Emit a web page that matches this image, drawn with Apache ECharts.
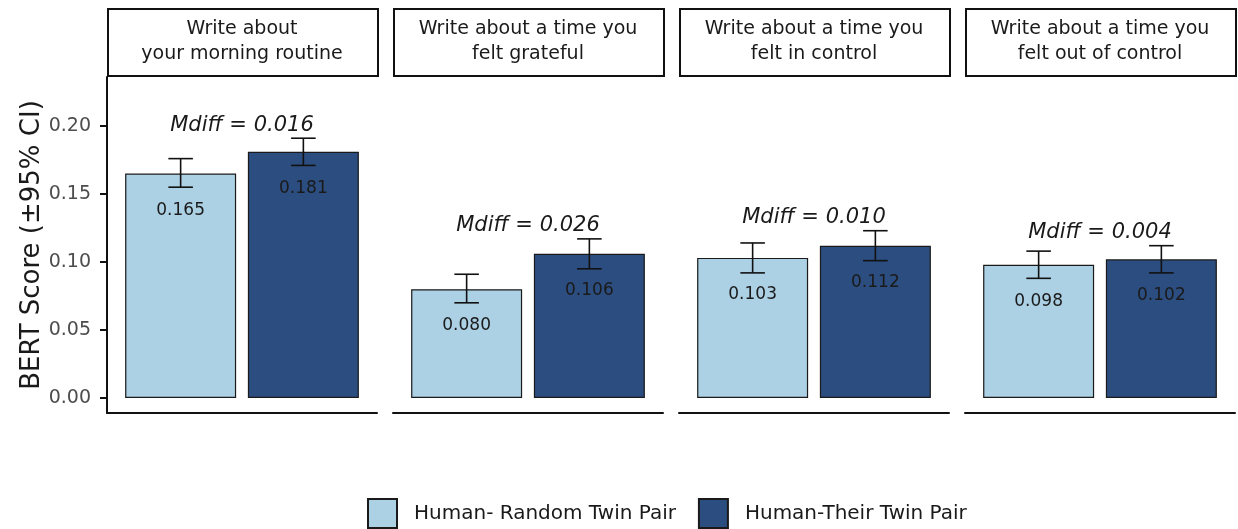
<!DOCTYPE html>
<html>
<head>
<meta charset="utf-8">
<script src="https://cdn.jsdelivr.net/npm/echarts@6/dist/echarts.min.js"></script>
<style>
  html, body { margin: 0; padding: 0; background: #ffffff; }
  #bert-chart { width: 1238px; height: 529px; }
</style>
</head>
<body>
<div id="bert-chart"></div>
<script>
//----------------------Data----------------------
let panelTitles = [
    "Write about\nyour morning routine",
    "Write about a time you\nfelt grateful",
    "Write about a time you\nfelt in control",
    "Write about a time you\nfelt out of control"
];
let seriesNames = ["Human- Random Twin Pair", "Human-Their Twin Pair"];
let randomPair = [0.165, 0.080, 0.103, 0.098];
let randomLo = [0.155, 0.070, 0.092, 0.088];
let randomHi = [0.176, 0.091, 0.114, 0.108];
let theirPair = [0.181, 0.106, 0.112, 0.102];
let theirLo = [0.171, 0.095, 0.101, 0.092];
let theirHi = [0.191, 0.117, 0.123, 0.112];
let mdiffLabels = ["0.016", "0.026", "0.010", "0.004"];
let yTicks = [0.00, 0.05, 0.10, 0.15, 0.20];

//--------------------Location--------------------
let panel_lefts = [107, 393, 679, 965];
let panel_width = 270;
let panel_top = 77;
let panel_bottom = 116;
let strip_top = 8;
let strip_height = 67;
let y_min = -0.011;
let y_max = 0.236;
let cap_width = 0.2;
let font_main = '"DejaVu Sans", sans-serif';
let color_light = "#acd0e4";
let color_dark = "#2c4d7f";
let ink = "#1a1a1a";

let bert_chart = echarts.init(document.getElementById("bert-chart"));

let grids = [], xAxes = [], yAxes = [], series = [], graphics = [];

for (let i = 0; i < panelTitles.length; i++) {
    grids.push({
        left: panel_lefts[i], width: panel_width,
        top: panel_top, bottom: panel_bottom
    });
    xAxes.push({
        gridIndex: i, type: "value", min: -0.6, max: 1.6,
        axisLine: {show: true, onZero: false, lineStyle: {color: "#111", width: 2}},
        axisTick: {show: false}, axisLabel: {show: false}, splitLine: {show: false}
    });
    yAxes.push({
        gridIndex: i, type: "value", min: y_min, max: y_max,
        show: i === 0,
        name: i === 0 ? "BERT Score (±95% CI)" : "",
        nameLocation: "middle", nameGap: 62,
        nameTextStyle: {fontSize: 26, color: ink, fontFamily: font_main},
        axisLine: {show: true, onZero: false, lineStyle: {color: "#111", width: 2}},
        axisTick: {show: true, length: 7, customValues: yTicks, lineStyle: {color: "#111", width: 2}},
        axisLabel: {
            show: true, customValues: yTicks, margin: 16,
            fontSize: 19, color: "#4d4d4d", fontFamily: font_main,
            formatter: v => v.toFixed(2)
        },
        splitLine: {show: false}
    });

    let barLabel = {
        show: true, position: "insideTop", distance: 28,
        fontSize: 17, color: ink, fontFamily: font_main,
        formatter: p => p.value[1].toFixed(3)
    };
    series.push({
        name: seriesNames[0], type: "bar", xAxisIndex: i, yAxisIndex: i,
        barWidth: 111, barGap: "-100%",
        itemStyle: {color: color_light, borderColor: "#1a1a1a", borderWidth: 1.2},
        label: barLabel,
        data: [[0, randomPair[i]]]
    });
    series.push({
        name: seriesNames[1], type: "bar", xAxisIndex: i, yAxisIndex: i,
        barWidth: 111, barGap: "-100%",
        itemStyle: {color: color_dark, borderColor: "#1a1a1a", borderWidth: 1.2},
        label: barLabel,
        data: [[1, theirPair[i]]]
    });
    // error bars
    series.push({
        type: "custom", xAxisIndex: i, yAxisIndex: i, z: 5,
        renderItem: function (params, api) {
            let lo = api.coord([api.value(0), api.value(1)]);
            let hi = api.coord([api.value(0), api.value(2)]);
            let half = api.size([cap_width, 0])[0] / 2;
            let st = {stroke: "#111", lineWidth: 1.6};
            return {type: "group", children: [
                {type: "line", shape: {x1: lo[0], y1: hi[1], x2: lo[0], y2: lo[1]}, style: st},
                {type: "line", shape: {x1: lo[0] - half, y1: hi[1], x2: lo[0] + half, y2: hi[1]}, style: st},
                {type: "line", shape: {x1: lo[0] - half, y1: lo[1], x2: lo[0] + half, y2: lo[1]}, style: st}
            ]};
        },
        data: [[0, randomLo[i], randomHi[i]], [1, theirLo[i], theirHi[i]]]
    });
    // Mdiff annotation above the higher CI
    series.push({
        type: "custom", xAxisIndex: i, yAxisIndex: i, z: 6,
        renderItem: function (params, api) {
            let pt = api.coord([api.value(0), api.value(1)]);
            return {type: "text", x: pt[0], y: pt[1], style: {
                text: "Mdiff = " + mdiffLabels[i],
                fill: ink, font: 'italic 21px "DejaVu Sans", sans-serif',
                textAlign: "center", textVerticalAlign: "middle",
                align: "center", verticalAlign: "middle"
            }};
        },
        data: [[0.5, Math.max(randomHi[i], theirHi[i]) + 0.0095]]
    });

    // facet strip
    graphics.push({
        type: "rect", left: panel_lefts[i], top: strip_top,
        shape: {width: panel_width, height: strip_height},
        style: {fill: "#ffffff", stroke: "#111", lineWidth: 2}
    });
    graphics.push({
        type: "text", x: panel_lefts[i] + panel_width / 2, y: strip_top + strip_height / 2,
        style: {
            text: panelTitles[i], fill: ink, font: '19px "DejaVu Sans", sans-serif',
            lineHeight: 25, align: "center", verticalAlign: "middle",
            textAlign: "center", textVerticalAlign: "middle"
        }
    });
}

//------------------Generate Graph------------------
let bert_chart_option = {
    backgroundColor: "#ffffff",
    animation: false,
    grid: grids,
    xAxis: xAxes,
    yAxis: yAxes,
    series: series,
    graphic: graphics,
    legend: {
        data: seriesNames, left: 367, top: 498, padding: 0,
        itemWidth: 29, itemHeight: 29, itemGap: 22,
        icon: "rect",
        textStyle: {fontSize: 20, color: ink, fontFamily: font_main, padding: [0, 0, 0, 12]}
    }
};
if (bert_chart_option && typeof bert_chart_option === "object") {
    bert_chart.setOption(bert_chart_option, true);
}
</script>
</body>
</html>
